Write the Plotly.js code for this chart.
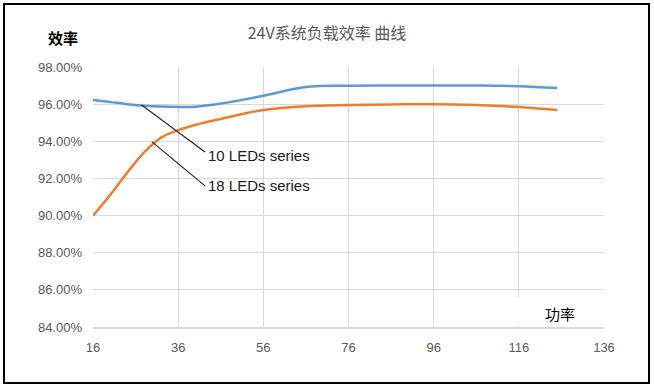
<!DOCTYPE html>
<html><head><meta charset="utf-8">
<script src="https://cdn.plot.ly/plotly-3.0.1.min.js"></script>
<style>
html,body{margin:0;padding:0;background:#fff;}
#wrap{position:relative;width:654px;height:389px;}
#chart{width:654px;height:389px;}
#frame{position:absolute;left:3px;top:3px;width:647px;height:381px;box-sizing:border-box;border:2px solid #000;pointer-events:none;}
</style>
</head><body><div id="wrap"><div id="chart"></div><div id="frame"></div></div>
<script>
// 功率 (W)
const power = [16, 20, 24, 28, 32, 36, 40, 46, 56, 66, 76, 86, 96, 106, 116, 125];
// 效率 (%)
const eff10 = [96.23, 96.12, 96.0, 95.92, 95.87, 95.85, 95.86, 96.03, 96.45, 96.92, 96.99, 97.0, 97.0, 97.0, 96.97, 96.87];
const eff18 = [90.0, 91.1, 92.3, 93.4, 94.2, 94.6, 94.88, 95.2, 95.68, 95.89, 95.95, 95.98, 96.0, 95.95, 95.84, 95.68];
const seriesNames = ["10 LEDs series", "18 LEDs series"];
const xTicks = [16, 36, 56, 76, 96, 116, 136];
const yTicks = [84, 86, 88, 90, 92, 94, 96, 98];
const titleText = "24V系统负载效率 曲线";
const yTitle = "效率";
const xTitle = "功率";

const tickFont = {family: "Liberation Sans, Arial, sans-serif", size: 13, color: "#595959"};
const cjk = "Noto Sans CJK SC, sans-serif";

const traces = [
  {x: power, y: eff10, name: seriesNames[0], mode: "lines",
   line: {color: "#5B9BD5", width: 2.5, shape: "spline", smoothing: 1}},
  {x: power, y: eff18, name: seriesNames[1], mode: "lines",
   line: {color: "#ED7D31", width: 2.5, shape: "spline", smoothing: 1}}
];

const layout = {
  width: 654, height: 389,
  margin: {l: 93, r: 50, t: 67, b: 62},
  paper_bgcolor: "#fff", plot_bgcolor: "#fff",
  showlegend: false,
  title: {text: titleText, x: 0.5, xref: "container", y: 1 - 33/389, yref: "container", yanchor: "middle",
          font: {family: cjk, size: 16, color: "#595959"}},
  xaxis: {range: [16, 136], tickvals: xTicks, ticktext: xTicks.map(String),
          showgrid: true, gridcolor: "#d9d9d9", gridwidth: 1, zeroline: false,
          showline: true, linecolor: "#d9d9d9", linewidth: 1.5, ticks: "",
          tickfont: tickFont, ticklabelstandoff: 8, fixedrange: true},
  yaxis: {range: [84, 98], tickvals: yTicks, ticktext: yTicks.map(v => v.toFixed(2) + "%"),
          showgrid: true, gridcolor: "#d9d9d9", gridwidth: 1, zeroline: false,
          showline: false, ticks: "", tickfont: tickFont, ticklabelstandoff: 10, fixedrange: true},
  shapes: [
    {type: "rect", xref: "x", yref: "y", x0: 115.5, x1: 121, y0: 84.08, y1: 85.62,
     fillcolor: "#fff", line: {width: 0}, layer: "between"},
    {type: "line", xref: "x", yref: "y", x0: 27.4, y0: 95.95, x1: 42.3, y1: 93.42,
     line: {color: "#262626", width: 1.2}, layer: "above"},
    {type: "line", xref: "x", yref: "y", x0: 29.8, y0: 93.98, x1: 42.3, y1: 91.6,
     line: {color: "#262626", width: 1.2}, layer: "above"}
  ],
  annotations: [
    {text: seriesNames[0], xref: "x", yref: "y", x: 42.6, y: 93.26, xanchor: "left", yanchor: "middle",
     showarrow: false, font: {family: "Liberation Sans, Arial, sans-serif", size: 15, color: "#1a1a1a"}},
    {text: seriesNames[1], xref: "x", yref: "y", x: 42.6, y: 91.6, xanchor: "left", yanchor: "middle",
     showarrow: false, font: {family: "Liberation Sans, Arial, sans-serif", size: 15, color: "#1a1a1a"}},
    {text: yTitle, xref: "paper", yref: "paper", x: -(93-63)/511, y: 1 + (67-38)/260, xanchor: "center", yanchor: "middle",
     showarrow: false, font: {family: cjk, size: 15, color: "#000", weight: 600}},
    {text: xTitle, xref: "paper", yref: "paper", x: (560-93)/511, y: (327-313)/260, xanchor: "center", yanchor: "middle",
     showarrow: false, font: {family: cjk, size: 15, color: "#000"}}
  ]
};

Plotly.newPlot("chart", traces, layout, {staticPlot: true, displayModeBar: false});
</script></body></html>
